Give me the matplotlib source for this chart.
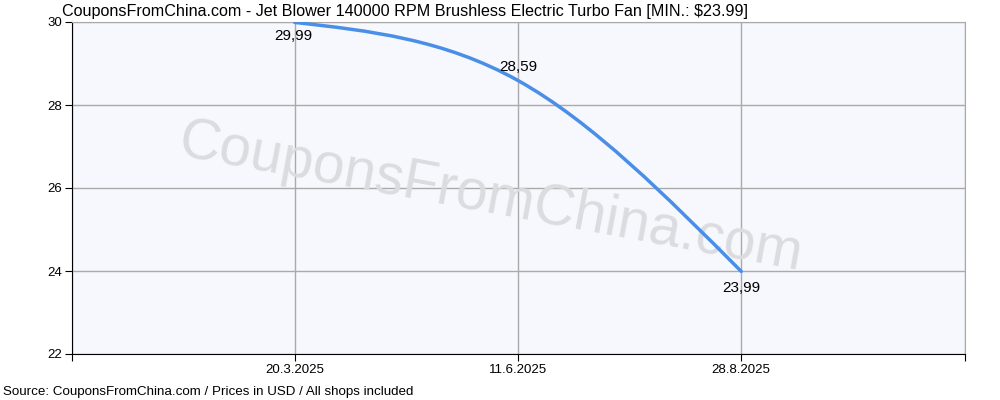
import matplotlib
matplotlib.use("Agg")
import matplotlib.pyplot as plt
from matplotlib.path import Path
from matplotlib.patches import PathPatch

# price history
dates = ["20.3.2025", "11.6.2025", "28.8.2025"]
prices = [29.99, 28.59, 23.99]
labels = ["29,99", "28,59", "23,99"]
yticks = [22, 24, 26, 28, 30]

title = "CouponsFromChina.com - Jet Blower 140000 RPM Brushless Electric Turbo Fan [MIN.: $23.99]"
source = "Source: CouponsFromChina.com / Prices in USD / All shops included"

plt.rcParams['font.family'] = ['Liberation Sans', 'DejaVu Sans']

fig = plt.figure(figsize=(10, 4), dpi=100)
ax = fig.add_axes([0.0715, 0.115, 0.893, 0.83])
ax.set_facecolor('#f7f8fd')

xs = list(range(len(prices)))

# natural cubic spline tangents -> bezier segments
d = [(prices[i + 1] - prices[i]) for i in range(len(prices) - 1)]
M1 = 1.5 * (d[1] - d[0])
m = [d[0] - M1 / 6, d[0] + M1 / 3, d[1] + M1 / 6]
verts = [(xs[0], prices[0])]
codes = [Path.MOVETO]
for i in range(len(prices) - 1):
    verts += [(xs[i] + 1 / 3, prices[i] + m[i] / 3),
              (xs[i + 1] - 1 / 3, prices[i + 1] - m[i + 1] / 3),
              (xs[i + 1], prices[i + 1])]
    codes += [Path.CURVE4] * 3
ax.add_patch(PathPatch(Path(verts, codes), fill=False, edgecolor='#4a8fe7',
                       lw=2.5, zorder=3, capstyle='round'))

ax.set_xlim(-1, 3)
ax.set_ylim(22, 30)
ax.set_xticks([-1, 0, 1, 2, 3])
ax.set_xticklabels([""] + dates + [""])
ax.set_yticks(yticks)
ax.tick_params(labelsize=9.5, length=5, colors='black', pad=2)
ax.grid(True, color='#aaaaaa', lw=1, zorder=1)
ax.set_axisbelow(True)
for s in ['top', 'right']:
    ax.spines[s].set_color('#aaaaaa')
for s in ['left', 'bottom']:
    ax.spines[s].set_color('black')

# value labels
offsets = [(-1, -10), (0, 10), (0, -12)]
for x, y, t, (dx, dy) in zip(xs, prices, labels, offsets):
    ax.annotate(t, (x, y), xytext=(dx, dy), textcoords='offset points',
                ha='center', va='center', fontsize=11, zorder=4)

# watermark
ax.text(0.469, 0.47, "CouponsFromChina.com", transform=ax.transAxes,
        fontsize=41, color='#dcdce0', rotation=-10.5, ha='center',
        va='center', zorder=1.5)

fig.text(0.062, 0.99, title, fontsize=11.65, va='top', ha='left')
fig.text(0.003, 0.005, source, fontsize=9.6, va='bottom', ha='left')

fig.savefig("out.png", dpi=100)
